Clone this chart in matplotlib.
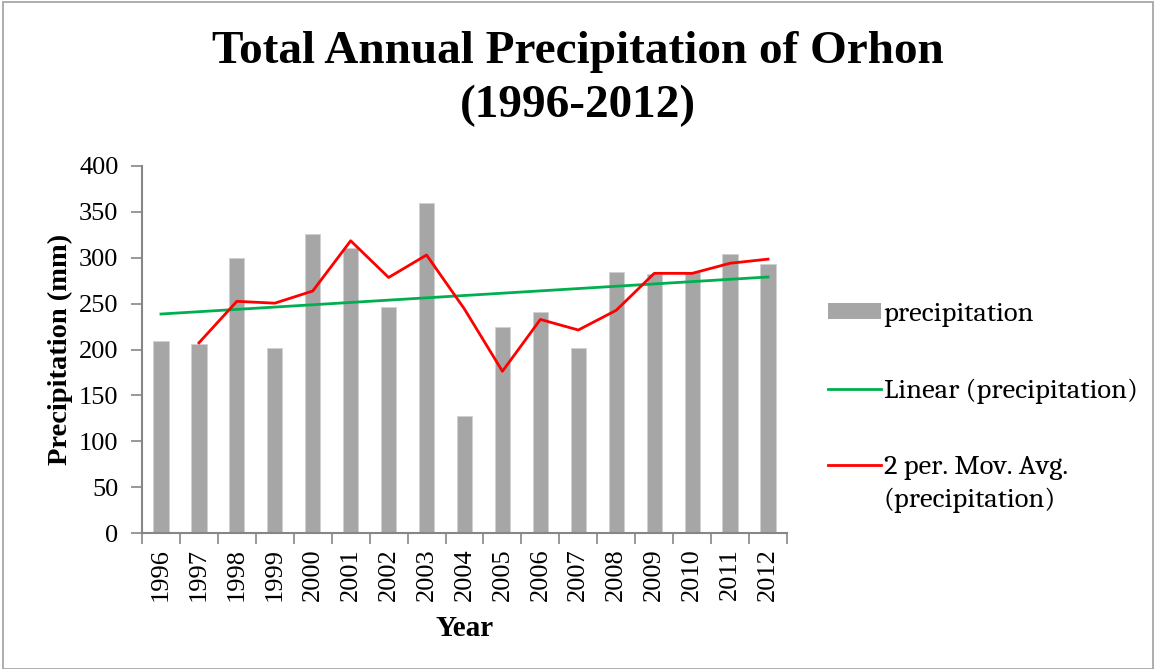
import numpy as np
import matplotlib
matplotlib.use("Agg")
import matplotlib.pyplot as plt
from matplotlib.patches import Rectangle, Patch
from matplotlib import font_manager as fm

years = ["1996", "1997", "1998", "1999", "2000", "2001", "2002", "2003", "2004",
         "2005", "2006", "2007", "2008", "2009", "2010", "2011", "2012"]
precipitation = [209, 205.5, 299.5, 201.5, 326, 311, 246, 360, 128,
                 224.5, 241, 201.5, 284, 282, 284, 304, 293]
y_ticks = [0, 50, 100, 150, 200, 250, 300, 350, 400]

serif = "Liberation Serif"
installed = set(f.name for f in fm.fontManager.ttflist)
legend_font = "Caladea" if "Caladea" in installed else serif

W, H = 1155, 669
fig = plt.figure(figsize=(W / 100, H / 100), dpi=100)
ax = fig.add_axes([142 / W, 1 - 533 / H, (787 - 142) / W, (533 - 166) / H])

x = np.arange(len(years))
vals = np.array(precipitation)
ax.bar(x, vals, width=0.4, color="#A6A6A6", edgecolor="#D0D0D0", linewidth=0.6,
       label="precipitation", zorder=2)

# Linear trend (least squares), as Excel trendline
coef = np.polyfit(x, vals, 1)
trend = np.polyval(coef, x)
ln_trend, = ax.plot(x, trend, color="#00B050", lw=2, label="Linear (precipitation)", zorder=3)

# 2-period moving average
mov = (vals[1:] + vals[:-1]) / 2
ln_mov, = ax.plot(x[1:], mov, color="#FF0000", lw=2,
                  label="2 per. Mov. Avg. (precipitation)", zorder=4)

ax.set_xlim(-0.5, len(years) - 0.5)
ax.set_ylim(0, 400)
ax.set_yticks(y_ticks)
ax.set_yticklabels([str(v) for v in y_ticks], fontfamily=serif, fontsize=19)
ax.set_xticks(x)
ax.set_xticklabels(years, rotation=90, fontfamily=serif, fontsize=19)
ax.set_xticks(np.arange(-0.5, len(years), 1), minor=True)
ax.tick_params(axis="x", which="major", length=0, pad=11)
ax.tick_params(axis="x", which="minor", length=8, width=1.2, color="#868686", direction="out")
ax.tick_params(axis="y", which="major", length=8, width=1.2, color="#868686", direction="out", pad=9)

for s in ["top", "right"]:
    ax.spines[s].set_visible(False)
for s in ["left", "bottom"]:
    ax.spines[s].set_color("#868686")
    ax.spines[s].set_linewidth(1.5)

ax.set_ylabel("Precipitation (mm)", fontfamily=serif, fontweight="bold", fontsize=20.5)
ax.yaxis.set_label_coords((60 - 142) / (787 - 142), 0.5)
ax.yaxis.label.set_verticalalignment("center")
ax.set_xlabel("Year", fontfamily=serif, fontweight="bold", fontsize=21)
ax.xaxis.set_label_coords(0.5, -(628 - 533) / (533 - 166))
ax.xaxis.label.set_verticalalignment("center")

fig.text(0.5, 1 - 52 / H, "Total Annual Precipitation of Orhon", ha="center", va="center",
         fontfamily=serif, fontweight="bold", fontsize=34)
fig.text(0.5, 1 - 106 / H, "(1996-2012)", ha="center", va="center",
         fontfamily=serif, fontweight="bold", fontsize=34)

handles = [Patch(facecolor="#A6A6A6", edgecolor="none"), ln_trend, ln_mov]
labels = ["precipitation", "Linear (precipitation)", "2 per. Mov. Avg."]
fig.legend(handles, labels, loc="upper left", bbox_to_anchor=(828 / W, 1 - 302 / H),
           frameon=False, prop={"family": legend_font, "size": 20.5},
           handlelength=1.85, handleheight=0.5, handletextpad=0.1, labelspacing=1.8,
           borderaxespad=0, borderpad=0)
fig.text(883 / W, 1 - 500 / H, "(precipitation)", ha="left", va="center",
         fontfamily=legend_font, fontsize=20.5)

fig.patches.append(Rectangle((3 / W, 0), 1150 / W, 1 - 2 / H, transform=fig.transFigure,
                             fill=False, edgecolor="#A0A0A0", linewidth=1.2))

fig.savefig("out.png", dpi=100)
